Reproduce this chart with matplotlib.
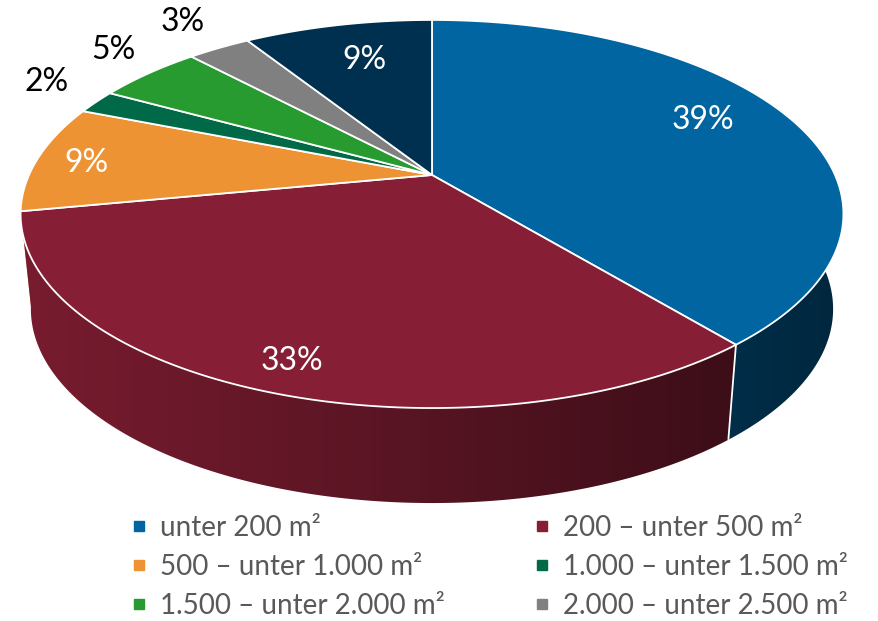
import numpy as np
import matplotlib
matplotlib.use("Agg")
import matplotlib.pyplot as plt
from matplotlib.lines import Line2D
from matplotlib.colors import to_rgb

# data
categories = ["unter 200 m²", "200 – unter 500 m²", "500 – unter 1.000 m²",
              "1.000 – unter 1.500 m²", "1.500 – unter 2.000 m²",
              "2.000 – unter 2.500 m²", "2.500 m² und mehr"]
shares = [39, 33, 9, 2, 5, 3, 9]
colors = ["#0065A0", "#861F35", "#EE9334", "#006A48", "#279B30", "#808080", "#00304F"]
legend_count = 6  # only six entries fit in the original legend

# layout of the fake 3d pie (pixels)
W, H = 879, 621
CX, CY = 432, 175      # apex of the slices
RX, RY = 403, 186.2    # rim radii
K = 0.201              # perspective strength
DEPTH = 95
SHRINK = 0.975         # bottom rim a bit narrower
# where the percentages sit (radius fraction, angle nudge in degrees)
label_r = [0.78, 0.88, 0.87, 1.2, 1.2, 1.23, 0.73]
label_dt = [3.9, 0.6, 1.1, -2.4, -2.5, -0.7, -1.1]

plt.rcParams["font.family"] = ["Lato", "DejaVu Sans"]


def project(r, theta, bottom=False):
    u = r * np.cos(theta)
    v = r * np.sin(theta)
    d = 1 + K * v
    x = RX * u / d
    y = CY - RY * v / d
    if bottom:
        x = x * SHRINK
        y = y + DEPTH
    return CX + x, y


def shade(x):
    return np.clip(0.9 - 0.52 * (x - 20) / 825, 0, 1)


fig = plt.figure(figsize=(W / 100, H / 100), dpi=100)
ax = fig.add_axes([0, 0, 1, 1])
ax.set_xlim(0, W)
ax.set_ylim(H, 0)
ax.axis("off")

fracs = np.array(shares, dtype=float) / sum(shares)
starts = np.pi / 2 - 2 * np.pi * np.concatenate([[0], np.cumsum(fracs)[:-1]])
ends = starts - 2 * np.pi * fracs

# side walls with a left-to-right light falloff, back ones first
xgrid = np.arange(W) + 0.5
ramp = shade(xgrid)
order = np.argsort([np.sin((s + e) / 2) for s, e in zip(starts, ends)])[::-1]
for i in order:
    s, e = starts[i], ends[i]
    th = np.linspace(s, e, 300)
    xt, yt = project(1, th)
    xb, yb = project(1, th[::-1], True)
    wall = plt.Polygon(list(zip(xt, yt)) + list(zip(xb, yb)), closed=True,
                       facecolor="none", edgecolor="none")
    ax.add_patch(wall)
    base = np.array(to_rgb(colors[i]))
    img = np.tile((ramp[:, None] * base[None, :])[None, :, :], (H, 1, 1))
    im = ax.imshow(img, extent=(0, W, H, 0), interpolation="bilinear",
                   aspect="auto", zorder=1)
    im.set_clip_path(wall)

# white seams on the visible side
for s in starts:
    if np.sin(s) < -0.3:
        x1, y1 = project(1, s)
        x2, y2 = project(1, s, True)
        ax.plot([x1, x2], [y1, y2], color="white", lw=1.3,
                solid_capstyle="butt", zorder=2)

# top faces
for s, e, c in zip(starts, ends, colors):
    th = np.linspace(s, e, max(int(abs(e - s) * 150), 4))
    xs, ys = project(1, th)
    poly = [(CX, CY)] + list(zip(xs, ys))
    ax.add_patch(plt.Polygon(poly, closed=True, facecolor=c, edgecolor="white",
                             lw=1.3, joinstyle="round", zorder=3))

# percentage labels
for s, e, p, r, dt in zip(starts, ends, shares, label_r, label_dt):
    mid = (s + e) / 2 + np.radians(dt)
    x, y = project(r, mid)
    col = "white" if r < 1 else "black"
    ax.text(x, y, f"{p}%", ha="center", va="center", color=col, fontsize=23,
            zorder=5)

ax.set_xlim(0, W)
ax.set_ylim(H, 0)

# legend, filled row by row like the original
handles = [Line2D([], [], marker="s", ls="", color=c, markersize=7)
           for c in colors[:legend_count]]
labels = categories[:legend_count]
idx = [0, 2, 4, 1, 3, 5]
leg = ax.legend([handles[i] for i in idx], [labels[i] for i in idx], ncol=2,
                loc="upper left", bbox_to_anchor=(131 / W, 1 - 515 / H),
                bbox_transform=fig.transFigure, frameon=False, fontsize=20,
                handlelength=0.6, handletextpad=0.45, columnspacing=3.2,
                labelspacing=0.46, borderpad=0, borderaxespad=0)
for t in leg.get_texts():
    t.set_color("#595959")

fig.savefig("out.png", dpi=100)
